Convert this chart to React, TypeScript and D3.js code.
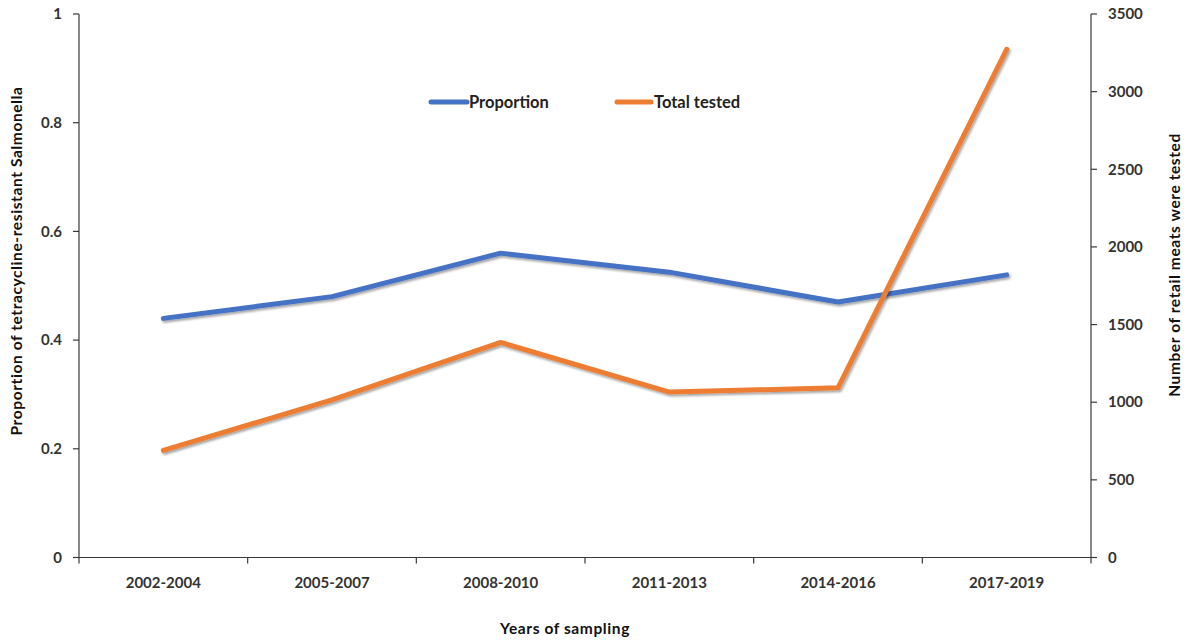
import React from "react";
import * as d3 from "d3";

const periods = ["2002-2004", "2005-2007", "2008-2010", "2011-2013", "2014-2016", "2017-2019"];
const proportion = [0.44, 0.48, 0.56, 0.525, 0.47, 0.52];
const totalTested = [690, 1015, 1385, 1065, 1093, 3273];
const leftTicks = [0, 0.2, 0.4, 0.6, 0.8, 1];
const rightTicks = [0, 500, 1000, 1500, 2000, 2500, 3000, 3500];

const W = 1188;
const H = 642;
const left = 79;
const right = 1091;
const top = 14;
const bottom = 557.5;
const FONT = "Lato, 'Open Sans', sans-serif";
const AXIS = "#3a3a3a";
const BLUE = "#4472C4";
const ORANGE = "#ED7D31";

export default function App() {
  const x = d3.scaleBand<string>().domain(periods).range([left, right]).paddingInner(0).paddingOuter(0);
  const yL = d3.scaleLinear().domain([0, 1]).range([bottom, top]);
  const yR = d3.scaleLinear().domain([0, 3500]).range([bottom, top]);
  const cx = (p: string) => (x(p) as number) + x.bandwidth() / 2;

  const propLine = d3
    .line<number>()
    .x((_, i) => cx(periods[i]))
    .y((d) => yL(d))(proportion) as string;
  const totalLine = d3
    .line<number>()
    .x((_, i) => cx(periods[i]))
    .y((d) => yR(d))(totalTested) as string;

  const boundaries = d3.range(periods.length + 1).map((i) => left + i * x.bandwidth());

  return (
    <svg width={W} height={H} style={{ position: "absolute", left: 0, top: 0, background: "#fff" }}>
      <defs>
        <filter id="lineShadow" x="-10%" y="-10%" width="120%" height="120%">
          <feDropShadow dx="1.5" dy="2" stdDeviation="1.2" floodColor="#000" floodOpacity="0.35" />
        </filter>
      </defs>
      <rect x={0} y={0} width={W} height={H} fill="#fff" />

      {/* left axis */}
      <line x1={left} x2={left} y1={top} y2={bottom} stroke={AXIS} strokeWidth={1.2} />
      {leftTicks.map((t) => (
        <g key={"l" + t}>
          <line x1={left - 6} x2={left} y1={yL(t)} y2={yL(t)} stroke={AXIS} strokeWidth={1.2} />
          <text x={left - 17} y={yL(t)} dy="0.35em" textAnchor="end" fontFamily={FONT} fontWeight={700} fontSize={15} fill="#333">
            {d3.format("~g")(t)}
          </text>
        </g>
      ))}

      {/* right axis */}
      <line x1={right} x2={right} y1={top} y2={bottom} stroke={AXIS} strokeWidth={1.2} />
      {rightTicks.map((t) => (
        <g key={"r" + t}>
          <line x1={right} x2={right + 6} y1={yR(t)} y2={yR(t)} stroke={AXIS} strokeWidth={1.2} />
          <text x={right + 17} y={yR(t)} dy="0.35em" textAnchor="start" fontFamily={FONT} fontWeight={700} fontSize={15} fill="#333">
            {t}
          </text>
        </g>
      ))}

      {/* bottom axis */}
      <line x1={left} x2={right} y1={bottom} y2={bottom} stroke={AXIS} strokeWidth={1.2} />
      {boundaries.map((b, i) => (
        <line key={"b" + i} x1={b} x2={b} y1={bottom} y2={bottom + 6} stroke={AXIS} strokeWidth={1.2} />
      ))}
      {periods.map((p) => (
        <text key={p} x={cx(p)} y={583} dy="0.35em" textAnchor="middle" fontFamily={FONT} fontWeight={700} fontSize={15} fill="#333">
          {p}
        </text>
      ))}

      {/* axis titles */}
      <text x={565} y={629} dy="0.35em" textAnchor="middle" fontFamily={FONT} fontWeight={700} fontSize={15.5} letterSpacing={0.6} fill="#111">
        Years of sampling
      </text>
      <text
        transform={`translate(17, 261) rotate(-90)`}
        dy="0.35em"
        textAnchor="middle"
        fontFamily={FONT}
        fontWeight={700}
        fontSize={15.5}
        letterSpacing={0.6}
        fill="#111"
      >
        Proportion of tetracycline-resistant Salmonella
      </text>
      <text
        transform={`translate(1175, 265) rotate(-90)`}
        dy="0.35em"
        textAnchor="middle"
        fontFamily={FONT}
        fontWeight={700}
        fontSize={15.5}
        letterSpacing={0.6}
        fill="#111"
      >
        Number of retail meats were tested
      </text>

      {/* series */}
      <path d={propLine} fill="none" stroke={BLUE} strokeWidth={5} strokeLinejoin="round" strokeLinecap="round" filter="url(#lineShadow)" />
      <path d={totalLine} fill="none" stroke={ORANGE} strokeWidth={5} strokeLinejoin="round" strokeLinecap="round" filter="url(#lineShadow)" />

      {/* legend */}
      <g fontFamily={FONT} fontWeight={700} fontSize={16.5} fill="#222">
        <line x1={431} x2={467} y1={102} y2={102} stroke={BLUE} strokeWidth={5} strokeLinecap="round" />
        <text x={469} y={102} dy="0.35em">Proportion</text>
        <line x1={617} x2={651} y1={102} y2={102} stroke={ORANGE} strokeWidth={5} strokeLinecap="round" />
        <text x={654} y={102} dy="0.35em">Total tested</text>
      </g>
    </svg>
  );
}
